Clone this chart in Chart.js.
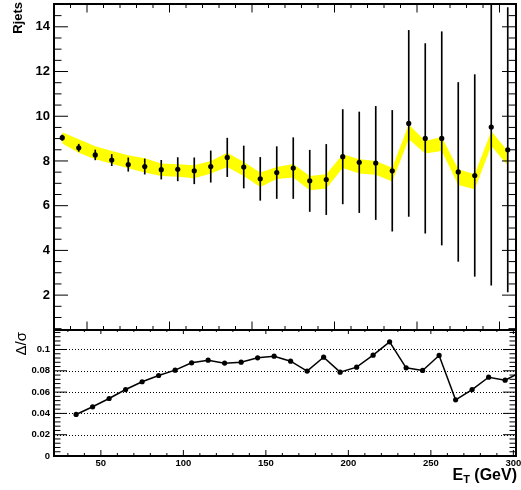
<!DOCTYPE html>
<html>
<head>
<meta charset="utf-8">
<script src="https://cdn.jsdelivr.net/npm/chart.js@4.4.1/dist/chart.umd.min.js"></script>
<style>
  html, body { margin: 0; padding: 0; background: #fff; }
  #wrap { position: relative; width: 521px; height: 490px; }
  canvas { position: absolute; left: 0; top: 0; }
</style>
</head>
<body>
<div id="wrap">
  <canvas id="ratioChart" width="521" height="490"></canvas>
  <canvas id="devChart" width="521" height="490"></canvas>
</div>
<script>
// E_T bin centres (GeV)
const etBins = [35, 45, 55, 65, 75, 85, 95, 105, 115, 125, 135, 145, 155, 165,
                175, 185, 195, 205, 215, 225, 235, 245, 255, 265, 275, 285, 295, 305];
// Rjets measured points and their errors
const rjets = [9.04, 8.59, 8.27, 8.04, 7.84, 7.75, 7.61, 7.63, 7.56, 7.75, 8.16, 7.73, 7.20, 7.48,
               7.68, 7.11, 7.17, 8.19, 7.94, 7.91, 7.56, 9.68, 9.01, 9.01, 7.51, 7.35, 9.52, 8.50];
const rjetsErr = [0.12, 0.16, 0.22, 0.25, 0.30, 0.34, 0.42, 0.52, 0.58, 0.70, 0.86, 0.94, 0.96, 1.16,
                  1.36, 1.37, 1.57, 2.11, 2.25, 2.53, 2.70, 4.16, 4.24, 4.77, 4.00, 4.51, 7.07, 6.36];
// yellow band edges
const bandLow = [8.78, 8.37, 8.08, 7.88, 7.67, 7.48, 7.33, 7.29, 7.23, 7.44, 7.73, 7.33, 6.84, 7.19,
                 7.26, 6.69, 6.77, 7.68, 7.44, 7.38, 7.08, 8.97, 8.33, 8.45, 6.93, 6.73, 8.67, 7.80];
const bandHigh = [9.28, 8.97, 8.66, 8.44, 8.25, 8.12, 7.89, 7.85, 7.81, 8.00, 8.37, 7.95, 7.48, 7.73,
                  7.86, 7.33, 7.41, 8.30, 8.08, 8.00, 7.70, 9.63, 8.89, 9.07, 7.63, 7.41, 9.33, 8.45];
// lower pad: delta / sigma
const deltaOverSigma = [0.0390, 0.0462, 0.0540, 0.0624, 0.0697, 0.0756, 0.0806, 0.0875, 0.0900, 0.0872,
                        0.0881, 0.0922, 0.0937, 0.0890, 0.0797, 0.0928, 0.0787, 0.0834, 0.0947, 0.1072,
                        0.0828, 0.0803, 0.0944, 0.0527, 0.0624, 0.0740, 0.0712, 0.0790];

const topYTicks = [2, 4, 6, 8, 10, 12, 14];
const botYTicks = [0, 0.02, 0.04, 0.06, 0.08, 0.1];
const botYLabels = ['0', '0.02', '0.04', '0.06', '0.08', '0.1'];
const etTicks = [50, 100, 150, 200, 250, 300];
const gridLines = [0.02, 0.04, 0.06, 0.08, 0.1];

const FONT = '"Liberation Sans", Arial, Helvetica, sans-serif';

function tickList(first, last, step, every) {
    const out = [];
    for (let k = first; k <= last; k++) out.push({ v: k * step, major: k % every === 0 });
    return out;
}

// ROOT style frame with inward ticks
function drawFrame(chart, s) {
    const ctx = chart.ctx;
    const a = chart.chartArea;
    const xs = chart.scales.x, ys = chart.scales.y;
    ctx.save();
    ctx.strokeStyle = '#000';
    ctx.lineWidth = 1;
    ctx.beginPath();
    s.yTicks.forEach(t => {
        const py = ys.getPixelForValue(t.v);
        const len = t.major ? s.yMajor : s.yMinor;
        ctx.moveTo(a.left, py); ctx.lineTo(a.left + len, py);
        ctx.moveTo(a.right, py); ctx.lineTo(a.right - len, py);
    });
    s.xTicks.forEach(t => {
        const px = xs.getPixelForValue(t.v);
        ctx.moveTo(px, a.bottom); ctx.lineTo(px, a.bottom - (t.major ? s.xMajB : s.xMinB));
        ctx.moveTo(px, a.top); ctx.lineTo(px, a.top + (t.major ? s.xMajT : s.xMinT));
    });
    ctx.stroke();
    ctx.lineWidth = 2;
    ctx.strokeRect(a.left, a.top, a.right - a.left, a.bottom - a.top);
    ctx.restore();
}

function fixY(scale) {
    scale.width = 54;
    scale.paddingTop = 0;
    scale.paddingBottom = 0;
}

// ---------- upper pad ----------
const topSpec = {
    yTicks: tickList(1, 30, 0.5, 4), yMajor: 14, yMinor: 7.5,
    xTicks: tickList(3, 31, 10, 5), xMajB: 8.5, xMinB: 4, xMajT: 8.5, xMinT: 4
};

new Chart(document.getElementById('ratioChart'), {
    type: 'line',
    data: {
        datasets: [{
            type: 'line',
            data: etBins.map((x, i) => ({ x: x, y: rjets[i] })),
            showLine: false,
            pointRadius: 2.6,
            pointBackgroundColor: '#000',
            pointBorderWidth: 0,
            order: 0
        }, {
            type: 'bar',
            data: etBins.map((x, i) => ({ x: x, y: [rjets[i] - rjetsErr[i], rjets[i] + rjetsErr[i]] })),
            backgroundColor: '#000',
            barThickness: 1,
            borderWidth: 0,
            order: 1
        }, {
            type: 'line',
            data: etBins.map((x, i) => ({ x: x, y: bandLow[i] })),
            borderColor: 'rgba(0,0,0,0)',
            pointRadius: 0,
            tension: 0,
            fill: false,
            order: 3
        }, {
            type: 'line',
            data: etBins.map((x, i) => ({ x: x, y: bandHigh[i] })),
            borderColor: 'rgba(0,0,0,0)',
            backgroundColor: '#ffff00',
            pointRadius: 0,
            tension: 0,
            fill: '-1',
            order: 2
        }]
    },
    options: {
        responsive: false,
        animation: false,
        devicePixelRatio: 1,
        layout: { padding: { left: 0, top: 2, right: 5, bottom: 160 } },
        plugins: { legend: { display: false }, tooltip: { enabled: false } },
        scales: {
            x: { type: 'linear', min: 30, max: 310, offset: false, display: false },
            y: {
                type: 'linear', min: 0.44, max: 15.02,
                grid: { display: false, drawTicks: false },
                border: { display: false },
                afterBuildTicks: s => { s.ticks = topYTicks.map(v => ({ value: v })); },
                afterFit: fixY,
                ticks: {
                    padding: 4,
                    color: '#000',
                    font: { family: FONT, size: 13, weight: 'bold' },
                    callback: v => String(v)
                }
            }
        }
    },
    plugins: [{
        id: 'topFrame',
        afterDraw(chart) {
            drawFrame(chart, topSpec);
            const ctx = chart.ctx;
            ctx.save();
            ctx.fillStyle = '#000';
            ctx.font = 'bold 13px ' + FONT;
            ctx.translate(22, 2);
            ctx.rotate(-Math.PI / 2);
            ctx.textAlign = 'right';
            ctx.textBaseline = 'alphabetic';
            ctx.fillText('Rjets', 0, 0);
            ctx.restore();
        }
    }]
});

// ---------- lower pad ----------
const botSpec = {
    yTicks: tickList(0, 29, 0.004, 5), yMajor: 13, yMinor: 6.5,
    xTicks: tickList(3, 30, 10, 5), xMajB: 6, xMinB: 3, xMajT: 4, xMinT: 2
};

new Chart(document.getElementById('devChart'), {
    type: 'line',
    data: {
        datasets: [{
            data: etBins.map((x, i) => ({ x: x, y: deltaOverSigma[i] })),
            borderColor: '#000',
            borderWidth: 1.5,
            pointRadius: 2.6,
            pointBackgroundColor: '#000',
            pointBorderWidth: 0,
            tension: 0,
            fill: false,
            clip: 0
        }]
    },
    options: {
        responsive: false,
        animation: false,
        devicePixelRatio: 1,
        layout: { padding: { left: 0, top: 330, right: 5, bottom: 0 } },
        plugins: { legend: { display: false }, tooltip: { enabled: false } },
        scales: {
            x: {
                type: 'linear', min: 21.6, max: 301.6, offset: false,
                grid: { display: false, drawTicks: false },
                border: { display: false },
                afterBuildTicks: s => { s.ticks = etTicks.map(v => ({ value: v })); },
                afterFit: s => { s.height = 34; s.paddingLeft = 0; s.paddingRight = 0; },
                ticks: {
                    padding: 2,
                    color: '#000',
                    maxRotation: 0,
                    font: { family: FONT, size: 9.5, weight: 'bold' },
                    callback: v => String(v)
                }
            },
            y: {
                type: 'linear', min: 0, max: 0.1183,
                grid: { display: false, drawTicks: false },
                border: { display: false },
                afterBuildTicks: s => { s.ticks = botYTicks.map(v => ({ value: v })); },
                afterFit: fixY,
                ticks: {
                    padding: 4,
                    color: '#000',
                    font: { family: FONT, size: 9.5, weight: 'bold' },
                    callback: v => botYLabels[botYTicks.indexOf(v)]
                }
            }
        }
    },
    plugins: [{
        id: 'botFrame',
        beforeDatasetsDraw(chart) {
            const ctx = chart.ctx, a = chart.chartArea, ys = chart.scales.y;
            ctx.save();
            ctx.strokeStyle = '#000';
            ctx.lineWidth = 1;
            ctx.setLineDash([1, 2]);
            ctx.beginPath();
            gridLines.forEach(v => {
                const py = Math.round(ys.getPixelForValue(v)) + 0.5;
                ctx.moveTo(a.left, py);
                ctx.lineTo(a.right, py);
            });
            ctx.stroke();
            ctx.restore();
        },
        afterDraw(chart) {
            drawFrame(chart, botSpec);
            const ctx = chart.ctx;
            ctx.save();
            ctx.fillStyle = '#000';
            ctx.font = '15px ' + FONT;
            ctx.translate(26, 332);
            ctx.rotate(-Math.PI / 2);
            ctx.textAlign = 'right';
            ctx.fillText('\u0394/\u03c3', 0, 0);
            ctx.restore();

            ctx.save();
            ctx.fillStyle = '#000';
            ctx.textAlign = 'left';
            const big = 'bold 16px ' + FONT, small = 'bold 11px ' + FONT;
            ctx.font = big;
            const wE = ctx.measureText('E').width;
            const wG = ctx.measureText(' (GeV)').width;
            ctx.font = small;
            const wT = ctx.measureText('T').width;
            let x0 = 517 - (wE + wT + wG);
            ctx.font = big;
            ctx.fillText('E', x0, 480);
            ctx.font = small;
            ctx.fillText('T', x0 + wE, 483);
            ctx.font = big;
            ctx.fillText(' (GeV)', x0 + wE + wT, 480);
            ctx.restore();
        }
    }]
});
</script>
</body>
</html>
